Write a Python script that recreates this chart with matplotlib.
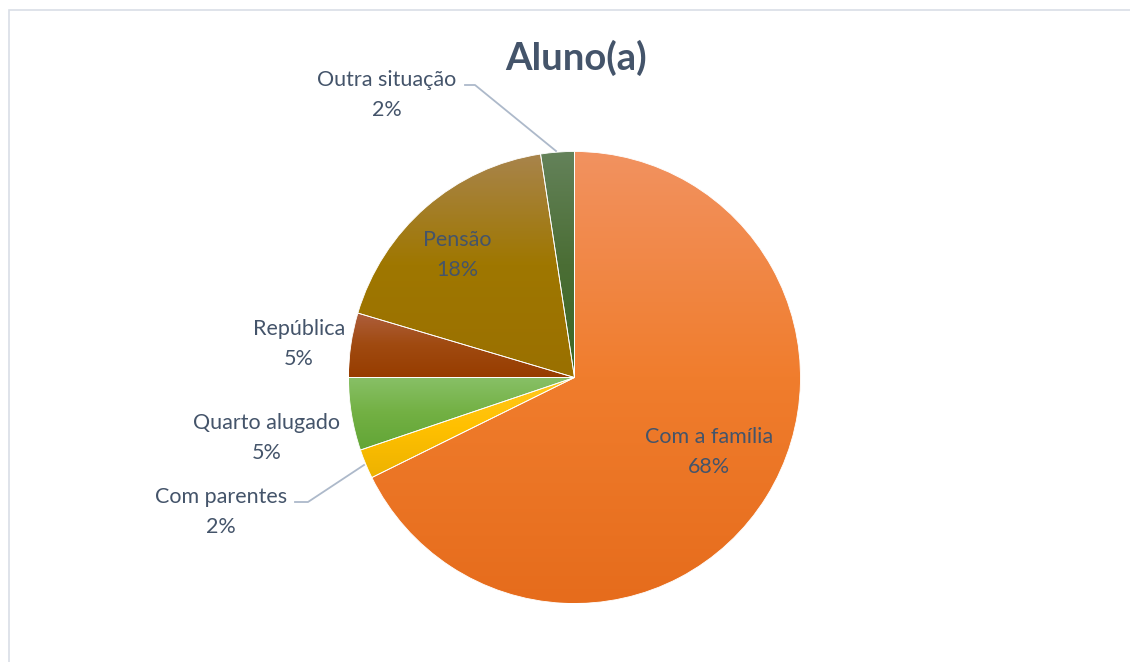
import numpy as np
import matplotlib
matplotlib.use("Agg")
import matplotlib.pyplot as plt
from matplotlib.colors import LinearSegmentedColormap, to_rgb
from matplotlib.patches import Rectangle

# ---- data ----
title = "Aluno(a)"
labels = ["Com a família", "Com parentes", "Quarto alugado", "República", "Pensão", "Outra situação"]
values = [67.7, 2.1, 5.2, 4.6, 18.0, 2.4]

# ---- style ----
base_colors = ["#ED7D31", "#FFC000", "#70AD47", "#9E480E", "#997300", "#43682B"]
grad_stops = [
    ("#F29260", "#F07D2D", "#E66C1C"),
    ("#FFC820", "#FFC000", "#EDB200"),
    ("#88C067", "#72B043", "#62A536"),
    ("#AE5F3E", "#A04A10", "#973D00"),
    ("#A8844C", "#9F7700", "#9A7000"),
    ("#64825A", "#4B6E35", "#3C6823"),
]
text_color = "#44546A"
W, H = 1130, 662
cx, cy, R = 574.5, 377.5, 226

plt.rcParams['font.family'] = ['Lato', 'DejaVu Sans']
fig = plt.figure(figsize=(W / 100, H / 100), dpi=100)
ax = fig.add_axes([0, 0, 1, 1])

def Y(y):
    return H - y

# chart border (only left and top edges are visible)
fig.patches.append(Rectangle((8.5 / W, -0.5), 2.0, Y(9.5) / H + 0.5, transform=fig.transFigure,
                             fill=False, edgecolor="#D9DEE6", linewidth=1.2))

wedges, _ = ax.pie(values, colors=base_colors, startangle=90, counterclock=False,
                   center=(cx, Y(cy)), radius=R, frame=True,
                   wedgeprops=dict(edgecolor="white", linewidth=0.6))

# vertical gradient for each wedge
for w, stops in zip(wedges, grad_stops):
    bb = w.get_path().get_extents(w.get_patch_transform())
    cmap = LinearSegmentedColormap.from_list("g", [to_rgb(c) for c in stops])
    grad = np.linspace(1, 0, 256).reshape(-1, 1)
    im = ax.imshow(grad, cmap=cmap, extent=(bb.x0, bb.x1, bb.y0, bb.y1),
                   origin='lower', aspect='auto', interpolation='bilinear', zorder=w.get_zorder() + 0.1)
    im.set_clip_path(w)
    w.set_facecolor("none")
    w.set_zorder(w.get_zorder() + 0.2)

ax.set_xlim(0, W)
ax.set_ylim(0, H)
ax.set_aspect('equal')
ax.axis('off')

# labels: (center x, first baseline y) in pixels
label_pos = [(709, 443), (221, 503), (266.5, 429), (299, 335), (457, 246), (387, 86)]
fs = 15.5
for lab, v, (x, yb) in zip(labels, values, label_pos):
    ax.text(x, Y(yb), lab, ha='center', va='baseline', fontsize=fs, color=text_color, zorder=10)
    ax.text(x, Y(yb + 30), f"{round(v):.0f}%", ha='center', va='baseline', fontsize=fs,
            color=text_color, zorder=10)

# leader lines
lc = "#ADB9CA"
ax.plot([295, 308, 364], [Y(502), Y(502), Y(465)], color=lc, lw=1.3, zorder=9)
ax.plot([465, 475, 556], [Y(85), Y(85), Y(151)], color=lc, lw=1.3, zorder=9)

# title
ax.text(576, Y(70), title, ha='center', va='baseline', fontsize=27.5, fontweight='bold',
        color=text_color, zorder=10)

fig.savefig("out.png", dpi=100)
